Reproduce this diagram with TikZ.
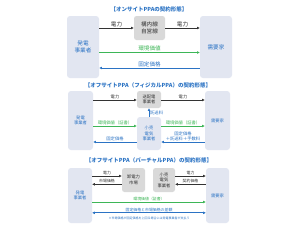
\documentclass[tikz,border=0pt]{standalone}
\usepackage{fontspec}
\setmainfont{Noto Sans CJK JP}
\usetikzlibrary{arrows.meta}
\definecolor{boxc}{HTML}{E2E6F1}
\definecolor{grayc}{HTML}{D9D9D9}
\definecolor{bluec}{HTML}{2B73C4}
\definecolor{greenc}{HTML}{3DB657}
\definecolor{txt}{HTML}{333333}
\begin{document}
\begin{tikzpicture}[x=1pt,y=-1pt,
  party/.style={fill=boxc, rounded corners=3pt, inner sep=0pt, text=bluec, align=center},
  midbox/.style={fill=grayc, rounded corners=2.5pt, inner sep=0pt, text=txt, align=center},
  ttl/.style={text=bluec, font=\fontsize{5.5}{6.5}\selectfont\bfseries, inner sep=0pt},
  fA/.style={font=\fontsize{5.6}{7.2}\selectfont},
  fB/.style={font=\fontsize{4.3}{5.6}\selectfont},
  fC/.style={font=\fontsize{3.9}{5}\selectfont},
  lbl/.style={inner sep=0.8pt, align=center},
  conn/.style={line width=0.7pt, -{Triangle[length=2.6pt,width=2.3pt]}},
  kconn/.style={conn, draw=txt},
  gconn/.style={conn, draw=greenc},
  bconn/.style={conn, draw=bluec},
]
\useasboundingbox[fill=white] (0,0) rectangle (300,225);

% ---------- Section 1 ----------
\node[ttl] (T1) at (149,9.5) {【オンサイトPPAの契約形態】};
\node[party, fA, minimum width=32pt, minimum height=62pt] (L1) at (83,47) {発電\\事業者};
\node[party, fA, minimum width=32pt, minimum height=62pt] (R1) at (216,47) {需要家};
\node[midbox, fA, minimum width=31pt, minimum height=24pt] (M1) at (149.5,28) {構内線\\自営線};
\draw[kconn] (L1.east |- 0,28) -- node[lbl, above, fA, text=txt] {電力} (M1.west |- 0,28);
\draw[kconn] (M1.east |- 0,28) -- node[lbl, above, fA, text=txt] {電力} (R1.west |- 0,28);
\draw[gconn] (L1.east |- 0,52.5) -- node[lbl, above, fA, text=greenc] {環境価値} (R1.west |- 0,52.5);
\draw[bconn] (R1.west |- 0,68) -- node[lbl, above, fA, text=bluec] {固定価格} (L1.east |- 0,68);

% ---------- Section 2 ----------
\node[ttl] (T2) at (148,85) {【オフサイトPPA（フィジカルPPA）の契約形態】};
\node[party, fB, minimum width=25pt, minimum height=59pt] (L2) at (80.5,120.5) {発電\\事業者};
\node[party, fB, minimum width=25pt, minimum height=59pt] (R2) at (217.5,120.5) {需要家};
\node[midbox, fB, minimum width=24pt, minimum height=17pt] (M2a) at (149,99.5) {送配電\\事業者};
\node[party, fB, text=bluec, minimum width=24pt, minimum height=33pt] (M2b) at (149,133.5) {小売\\電気\\事業者};
\draw[kconn] (L2.east |- 0,100) -- node[lbl, above, fB, text=txt] {電力} (M2a.west |- 0,100);
\draw[kconn] (M2a.east |- 0,100) -- node[lbl, above, fB, text=txt] {電力} (R2.west |- 0,100);
\draw[bconn] (M2b.north) -- node[lbl, right, fB, text=bluec] {託送料} (M2a.south);
\draw[gconn] (L2.east |- 0,126) -- node[lbl, above, fB, text=greenc] {環境価値（証書）} (M2b.west |- 0,126);
\draw[gconn] (M2b.east |- 0,126) -- node[lbl, above, fB, text=greenc] {環境価値（証書）} (R2.west |- 0,126);
\draw[bconn] (R2.west |- 0,142) -- node[lbl, above, fB, text=bluec, inner sep=0.5pt] {固定価格\\＋託送料＋手数料} (M2b.east |- 0,142);
\draw[bconn] (M2b.west |- 0,142) -- node[lbl, above, fB, text=bluec] {固定価格} (L2.east |- 0,142);

% ---------- Section 3 ----------
\node[ttl] (T3) at (149,160) {【オフサイトPPA（バーチャルPPA）の契約形態】};
\node[party, fB, minimum width=24pt, minimum height=55pt] (L3) at (80,195.5) {発電\\事業者};
\node[party, fB, minimum width=23pt, minimum height=55pt] (R3) at (217.5,195.5) {需要家};
\node[midbox, fB, minimum width=23pt, minimum height=24pt] (MK) at (133.5,180) {卸電力\\市場};
\node[midbox, fB, minimum width=22pt, minimum height=24pt] (RT) at (164,180) {小売\\電気\\事業者};
\draw[kconn] (L3.east |- 0,176) -- node[lbl, above, fC, text=txt] {電力} (MK.west |- 0,176);
\draw[kconn] (MK.west |- 0,184.3) -- node[lbl, above, fC, text=txt] {市場価格} (L3.east |- 0,184.3);
\draw[kconn] (RT.east |- 0,176) -- node[lbl, above, fC, text=txt] {電力} (R3.west |- 0,176);
\draw[kconn] (R3.west |- 0,184.3) -- node[lbl, above, fC, text=txt] {契約価格} (RT.east |- 0,184.3);
\draw[gconn] (L3.east |- 0,202) -- node[lbl, above, fC, text=greenc] {環境価値（証書）} (R3.west |- 0,202);
\draw[bconn, {Triangle[length=2.6pt,width=2.3pt]}-{Triangle[length=2.6pt,width=2.3pt]}] (L3.east |- 0,212.8) -- node[lbl, above, fC, text=bluec] {固定価格と市場価格の差額} (R3.west |- 0,212.8);
\node[text=bluec, font=\fontsize{3}{3.6}\selectfont, inner sep=0pt] (FN) at (149,218.5) {＊市場価格が固定価格を上回る場合には発電事業者が支払う};
\end{tikzpicture}
\end{document}
